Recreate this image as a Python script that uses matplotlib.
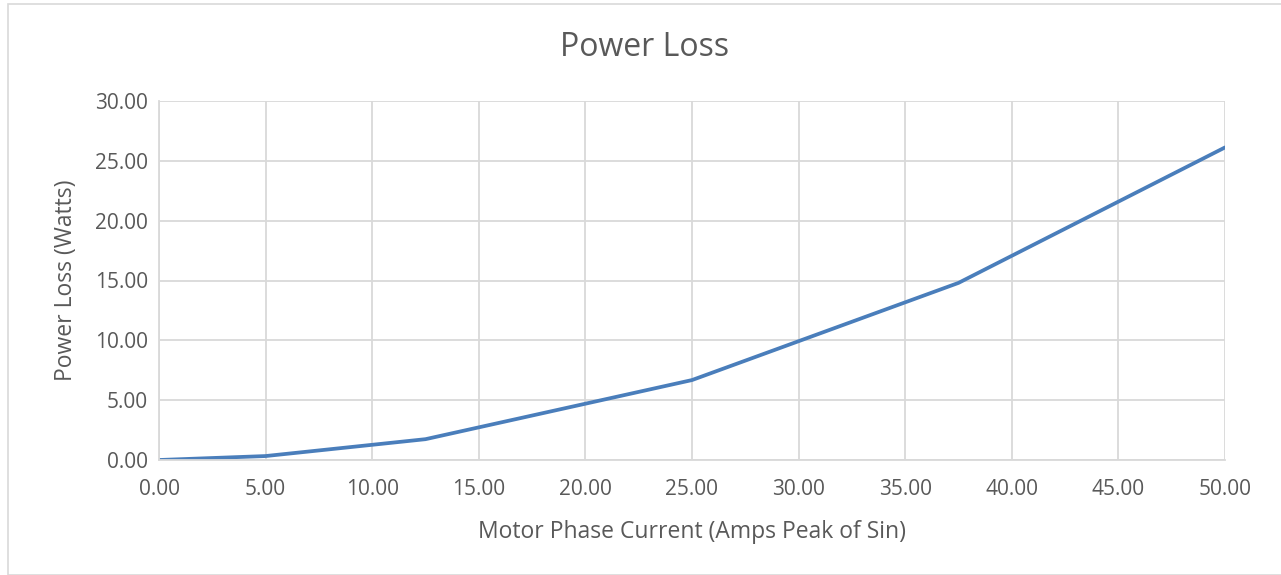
import matplotlib.pyplot as plt
from matplotlib.patches import Rectangle

# Motor phase current (A peak) and power loss (W)
current = [0.0, 5.0, 12.5, 25.0, 37.5, 50.0]
power_loss = [0.0, 0.33, 1.74, 6.68, 14.8, 26.12]

x_ticks = [0, 5, 10, 15, 20, 25, 30, 35, 40, 45, 50]
y_ticks = [0, 5, 10, 15, 20, 25, 30]

TEXT = "#595959"
GRID = "#d9d9d9"

plt.rcParams['font.family'] = ['Open Sans', 'DejaVu Sans']

fig = plt.figure(figsize=(12.81, 5.75), dpi=100)
ax = fig.add_axes([159 / 1281, 1 - 460 / 575, (1225 - 159) / 1281, (460 - 101) / 575])

ax.plot(current, power_loss, color="#4a7ebb", lw=2.7, solid_capstyle="round")

ax.set_xlim(0, 50)
ax.set_ylim(0, 30)
ax.set_xticks(x_ticks)
ax.set_yticks(y_ticks)
ax.set_xticklabels([f"{v:.2f}" for v in x_ticks])
ax.set_yticklabels([f"{v:.2f}" for v in y_ticks])
ax.tick_params(length=0, labelsize=15, colors=TEXT)
ax.tick_params(axis="x", pad=14)
ax.tick_params(axis="y", pad=8)
ax.grid(True, color=GRID, lw=1.3)
ax.set_axisbelow(True)
for side in ["top", "right"]:
    ax.spines[side].set_visible(False)
ax.spines["left"].set_color(GRID)
ax.spines["bottom"].set_color(GRID)
ax.spines["left"].set_linewidth(1.3)
ax.spines["bottom"].set_linewidth(1.3)

ax.set_xlabel("Motor Phase Current (Amps Peak of Sin)", fontsize=16.5, color=TEXT, labelpad=14)
ax.set_ylabel("Power Loss (Watts)", fontsize=16.5, color=TEXT, labelpad=12)
fig.text(645 / 1281, 1 - 47 / 575, "Power Loss", fontsize=23, color=TEXT,
         ha="center", va="center")

# chart area border
fig.patches.append(Rectangle((8 / 1281, 0), 1, 1 - 4 / 575, transform=fig.transFigure,
                             fill=False, edgecolor="#d9d9d9", lw=1.2))

fig.savefig("out.png", dpi=100)
